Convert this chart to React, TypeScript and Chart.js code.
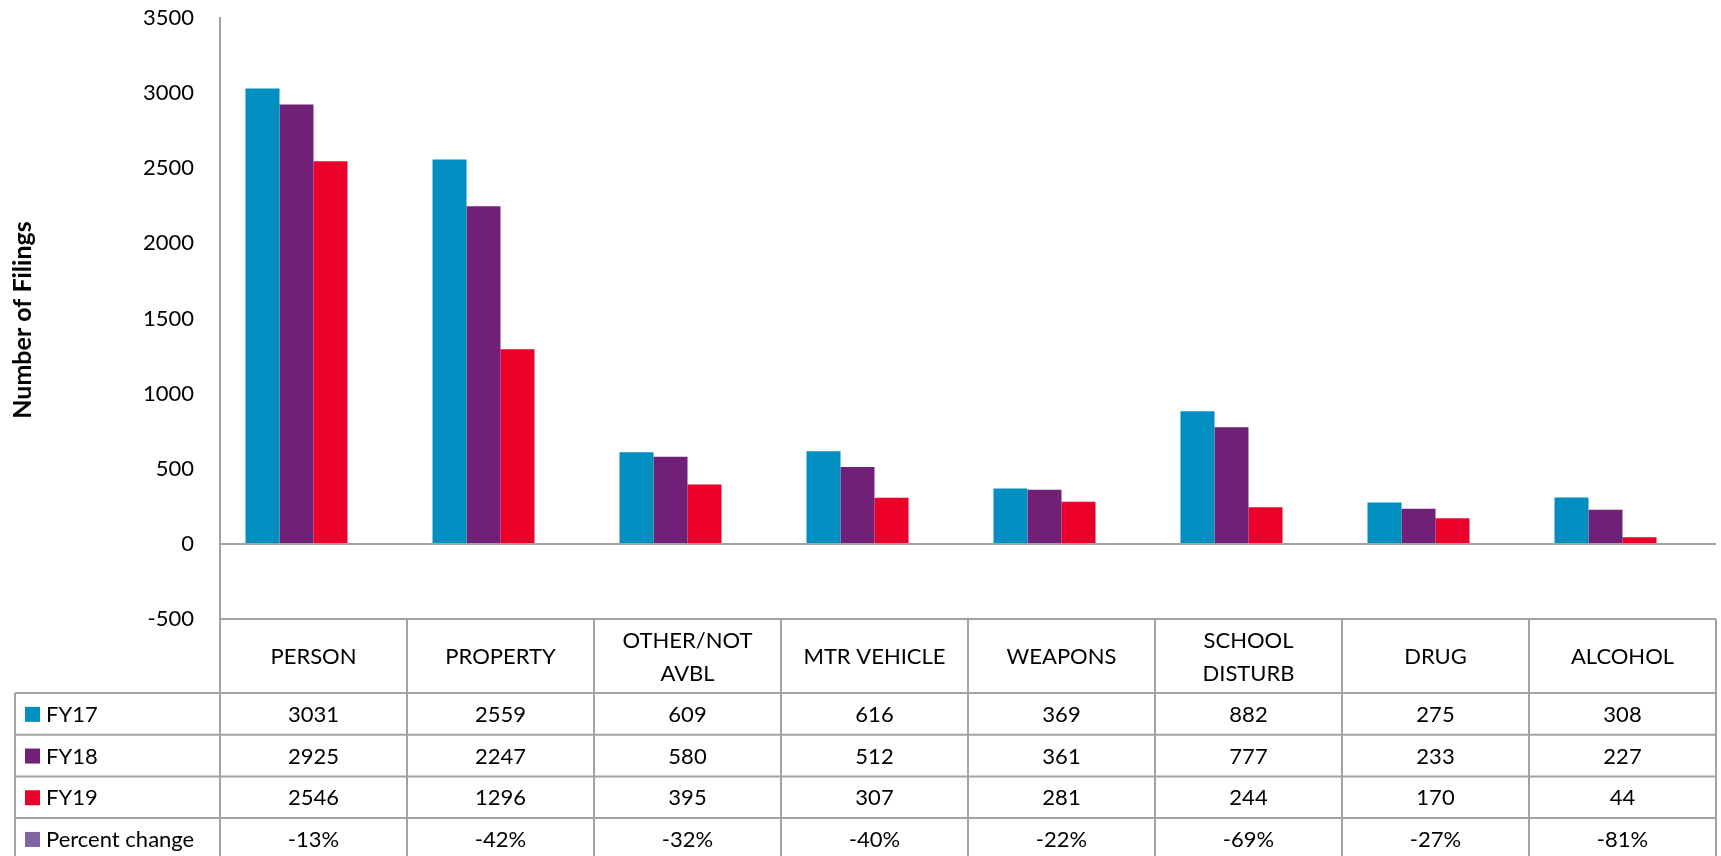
import React, { useEffect, useRef } from 'react';
import { Chart, registerables } from 'chart.js';

Chart.register(...registerables);

const categories: string[][] = [
  ['PERSON'],
  ['PROPERTY'],
  ['OTHER/NOT', 'AVBL'],
  ['MTR VEHICLE'],
  ['WEAPONS'],
  ['SCHOOL', 'DISTURB'],
  ['DRUG'],
  ['ALCOHOL'],
];
const fy17 = [3031, 2559, 609, 616, 369, 882, 275, 308];
const fy18 = [2925, 2247, 580, 512, 361, 777, 233, 227];
const fy19 = [2546, 1296, 395, 307, 281, 244, 170, 44];
const percentChange = [-13, -42, -32, -40, -22, -69, -27, -81];
const seriesNames = ['FY17', 'FY18', 'FY19', 'Percent change'];
const seriesColors = ['#008FC0', '#702076', '#EA0029', '#8064A2'];
const yTitle = 'Number of Filings';

const FONT = 'Lato, "Liberation Sans", sans-serif';
const GRID = '#a3a3a3';

const tablePlugin = {
  id: 'dataTable',
  afterDraw(chart: any) {
    const { ctx, chartArea } = chart;
    const left = chartArea.left;
    const right = chartArea.right;
    const top = chartArea.bottom;
    const n = categories.length;
    const colW = (right - left) / n;
    const headerH = 74;
    const rowH = 41.7;
    const tableLeft = 15;
    const bottom = top + headerH + 4 * rowH + 4;
    ctx.save();
    ctx.strokeStyle = GRID;
    ctx.lineWidth = 2;
    const line = (x1: number, y1: number, x2: number, y2: number) => {
      ctx.beginPath();
      ctx.moveTo(x1, y1);
      ctx.lineTo(x2, y2);
      ctx.stroke();
    };
    line(left, top, right, top);
    for (let r = 0; r < 4; r++) {
      const y = top + headerH + r * rowH;
      line(tableLeft, y, right, y);
    }
    for (let k = 0; k <= n; k++) {
      const x = left + k * colW;
      line(x, top, x, bottom);
    }
    line(tableLeft, top + headerH, tableLeft, bottom);

    ctx.fillStyle = '#000';
    ctx.font = `22px ${FONT}`;
    ctx.textAlign = 'center';
    ctx.textBaseline = 'middle';
    categories.forEach((lines, i) => {
      const cx = left + (i + 0.5) * colW;
      const cy = top + headerH / 2 + 1;
      if (lines.length === 1) {
        ctx.fillText(lines[0], cx, cy);
      } else {
        ctx.fillText(lines[0], cx, cy - 16.5);
        ctx.fillText(lines[1], cx, cy + 16.5);
      }
    });
    const rows = [
      fy17.map(String),
      fy18.map(String),
      fy19.map(String),
      percentChange.map((v) => `${v}%`),
    ];
    rows.forEach((vals, r) => {
      const cy = top + headerH + r * rowH + rowH / 2 + 1;
      ctx.textAlign = 'center';
      vals.forEach((v, i) => {
        ctx.fillText(v, left + (i + 0.5) * colW, cy);
      });
      ctx.fillStyle = seriesColors[r];
      ctx.fillRect(25, cy - 8, 15, 15);
      ctx.fillStyle = '#000';
      ctx.textAlign = 'left';
      ctx.fillText(seriesNames[r], 46, cy);
    });

    // y axis title
    ctx.save();
    ctx.translate(23, 320);
    ctx.rotate(-Math.PI / 2);
    ctx.font = `bold 25px ${FONT}`;
    ctx.textAlign = 'center';
    ctx.textBaseline = 'middle';
    ctx.fillText(yTitle, 0, 0);
    ctx.restore();
    ctx.restore();
  },
};

export default function App() {
  const ref = useRef<HTMLCanvasElement | null>(null);
  useEffect(() => {
    document.body.style.margin = '0';
    document.body.style.overflow = 'hidden';
    const canvas = ref.current!;
    const values = [fy17, fy18, fy19, percentChange.map((v) => v / 100)];
    const chart = new Chart(canvas, {
      type: 'bar',
      data: {
        labels: categories.map((c) => c.join(' ')),
        datasets: values.map((d, i) => ({
          label: seriesNames[i],
          data: d,
          backgroundColor: i === 3 ? 'rgba(0,0,0,0)' : seriesColors[i],
          borderWidth: 0,
          barPercentage: 1,
          categoryPercentage: 4 / 5.5,
        })),
      },
      options: {
        responsive: false,
        animation: false,
        devicePixelRatio: 1,
        layout: { padding: { left: 0, top: 18, right: 5, bottom: 237 } },
        plugins: { legend: { display: false }, tooltip: { enabled: false } },
        scales: {
          x: { display: false },
          y: {
            min: -500,
            max: 3500,
            ticks: {
              stepSize: 500,
              padding: 0,
              color: '#000',
              font: { family: FONT, size: 22 },
              callback: (v: any) => String(v),
            },
            grid: {
              drawTicks: true,
              tickLength: 26,
              tickColor: 'rgba(0,0,0,0)',
              lineWidth: 2,
              color: (c: any) => (c.tick && c.tick.value === 0 ? GRID : 'rgba(0,0,0,0)'),
            },
            border: { display: true, color: GRID, width: 2 },
            afterFit: (s: any) => {
              s.width = 220;
            },
          },
        },
      },
      plugins: [tablePlugin],
    });
    return () => chart.destroy();
  }, []);
  return (
    <div style={{ position: 'fixed', left: 0, top: 0, width: 1721, height: 856, background: '#fff' }}>
      <canvas ref={ref} width={1721} height={856} style={{ width: 1721, height: 856, display: 'block' }} />
    </div>
  );
}
